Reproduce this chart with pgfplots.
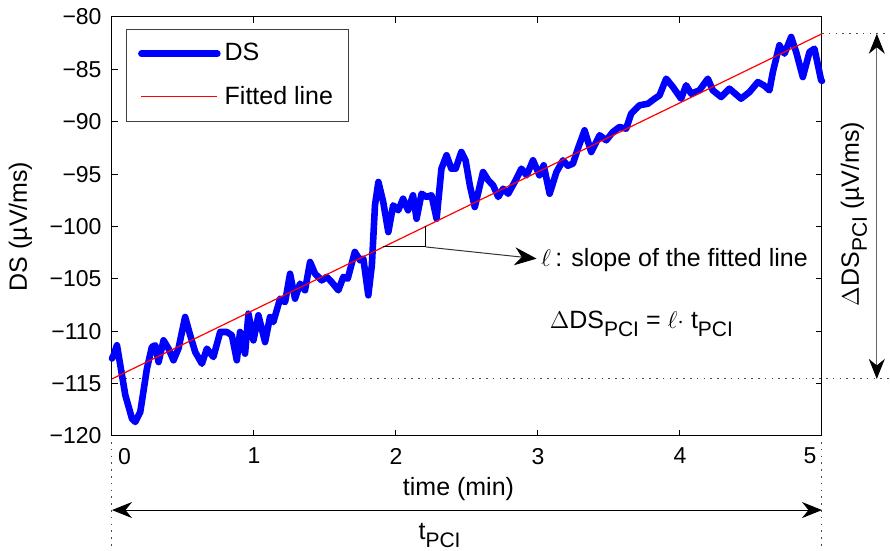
\documentclass[border=0pt]{standalone}
\usepackage{fontspec}
\setmainfont{Liberation Sans}
\usepackage{pgfplots}
\pgfplotsset{compat=1.18}
\usetikzlibrary{arrows.meta}
\newcommand{\sub}[1]{\raisebox{-0.6ex}{\fontsize{10.5}{11}\selectfont #1}}
\begin{document}
\begin{tikzpicture}
\useasboundingbox (-56pt,-57.5pt) rectangle (389pt,218pt);
\begin{axis}[
  at={(0,0)}, anchor=south west,
  scale only axis, width=355pt, height=209.5pt,
  xmin=0, xmax=5, ymin=-120, ymax=-80,
  xtick={0,1,2,3,4,5},
  xticklabels={\kern12.4pt 0,1,2,3,4,5\kern12pt},
  ytick={-120,-115,-110,-105,-100,-95,-90,-85,-80},
  yticklabels={−120,−115,−110,−105,−100,−95,−90,−85,−80},
  xtick pos=both, ytick pos=both, tick align=inside,
  major tick length=3pt,
  axis line style={line width=0.5pt},
  tick style={line width=0.5pt, black},
  tick label style={font=\fontsize{11.5}{13}\selectfont},
  xticklabel style={yshift=-2.5pt},
  yticklabel style={xshift=-1.7pt},
  xlabel={time (min)},
  ylabel={DS (µV/ms)},
  xlabel style={font=\fontsize{12.5}{15}\selectfont, at={(axis description cs:0.488,-0.1265)}, anchor=center},
  ylabel style={font=\fontsize{12.5}{15}\selectfont, at={(axis description cs:-0.129,0.5)}, anchor=center},
  clip=false,
  legend cell align=left,
  legend style={at={(axis description cs:0,1)}, anchor=north west, xshift=7pt, yshift=-6pt,
    font=\fontsize{12.5}{15}\selectfont, draw=black!75, line width=0.5pt,
    inner xsep=5.8pt, inner ysep=5pt, row sep=7pt, column sep=0pt,
    nodes={inner sep=2pt}},
  legend image code/.code={\draw[#1] (0pt,0pt) -- (38pt,0pt);},
]
% dotted guide lines
\draw[black!70, line width=0.5pt, dash pattern=on 0.8pt off 2.6pt] (axis cs:0,-114.55) -- (axis cs:5.47,-114.55);
\addplot[blue, line width=3.3pt, line join=round, line cap=round] table {
x y
0.000 -112.60
0.011 -112.30
0.035 -111.34
0.094 -116.11
0.141 -118.35
0.164 -118.66
0.199 -117.71
0.246 -113.57
0.281 -111.50
0.305 -111.34
0.328 -112.94
0.363 -110.87
0.398 -111.66
0.433 -112.77
0.468 -111.66
0.515 -108.64
0.551 -110.39
0.586 -111.98
0.633 -113.10
0.668 -111.66
0.714 -112.46
0.762 -110.07
0.809 -110.07
0.844 -110.39
0.879 -112.77
0.902 -110.07
0.937 -112.14
0.961 -108.32
0.996 -110.87
1.031 -108.48
1.078 -111.03
1.113 -108.64
1.136 -109.12
1.184 -106.89
1.219 -107.21
1.254 -104.51
1.289 -106.89
1.324 -105.46
1.359 -106.09
1.395 -103.39
1.430 -104.51
1.477 -105.14
1.512 -104.82
1.547 -105.30
1.594 -106.09
1.629 -104.82
1.660 -104.98
1.710 -102.43
1.747 -103.23
1.770 -103.07
1.805 -106.57
1.830 -103.70
1.852 -97.98
1.876 -95.75
1.910 -97.66
1.946 -100.53
1.980 -97.98
2.016 -98.45
2.050 -97.35
2.085 -98.45
2.120 -97.02
2.145 -99.26
2.180 -96.87
2.215 -97.18
2.250 -97.02
2.286 -99.26
2.320 -94.48
2.356 -93.20
2.390 -94.48
2.420 -94.48
2.460 -92.89
2.490 -93.68
2.520 -96.07
2.555 -98.14
2.580 -96.71
2.613 -94.80
2.650 -95.59
2.684 -96.07
2.720 -97.18
2.755 -96.39
2.790 -96.87
2.836 -95.75
2.883 -94.48
2.920 -95.11
2.965 -93.68
3.010 -95.11
3.040 -94.16
3.082 -96.87
3.130 -94.80
3.176 -93.68
3.210 -94.20
3.246 -94.00
3.281 -92.57
3.328 -90.82
3.375 -92.89
3.434 -91.29
3.481 -91.77
3.527 -90.98
3.574 -90.50
3.621 -90.66
3.656 -89.23
3.715 -88.43
3.774 -88.28
3.821 -87.80
3.856 -87.48
3.903 -85.89
3.950 -86.68
4.008 -87.80
4.043 -86.52
4.079 -87.32
4.137 -87.00
4.196 -85.89
4.231 -87.00
4.290 -87.64
4.348 -86.84
4.430 -87.80
4.490 -87.16
4.548 -86.21
4.590 -86.52
4.630 -87.00
4.654 -85.25
4.700 -82.70
4.736 -83.50
4.783 -81.91
4.818 -83.34
4.865 -85.73
4.912 -83.34
4.947 -83.03
4.994 -86.04
5.000 -86.10
};
\addlegendentry{DS}
\addplot[red, line width=0.6pt] coordinates {(0,-114.55) (5,-81.6)};
\addlegendentry{Fitted line}
% slope annotation
\draw[black, line width=0.5pt] (axis cs:1.909,-101.95) -- (axis cs:2.209,-101.95) -- (axis cs:2.209,-99.97);
\draw[black!80, line width=0.5pt, -{Stealth[length=11pt,width=9pt,color=black]}] (axis cs:2.209,-101.95) -- (axis cs:2.99,-103.07);
\node[anchor=west, font=\fontsize{12.5}{15}\selectfont, inner sep=0pt] at (axis cs:3.02,-103.2) {$\ell$\,: slope of the fitted line};
\node[anchor=west, font=\fontsize{12.5}{15}\selectfont, inner sep=0pt] at (axis cs:3.08,-109.3) {$\Delta$DS\sub{PCI} = $\ell\cdot$ t\sub{PCI}};
% right side
\draw[black!70, line width=0.5pt, dash pattern=on 0.8pt off 2.6pt] (axis cs:5,-81.6) -- (axis cs:5.47,-81.6);
\draw[black!60, line width=0.5pt, {Stealth[length=10pt,width=8pt,color=black]}-{Stealth[length=10pt,width=8pt,color=black]}] (axis cs:5.386,-81.6) -- (axis cs:5.386,-114.55);
\node[rotate=90, font=\fontsize{12.5}{15}\selectfont] at (axis cs:5.225,-98.8) {$\Delta$DS\sub{PCI} (µV/ms)};
% bottom
\draw[black!70, line width=0.5pt, dash pattern=on 0.8pt off 2.6pt] (axis cs:0,-120.57) -- (axis cs:0,-131.5);
\draw[black!70, line width=0.5pt, dash pattern=on 0.8pt off 2.6pt] (axis cs:5,-120.57) -- (axis cs:5,-131.5);
\draw[black, line width=0.5pt, {Stealth[length=10pt,width=8pt]}-{Stealth[length=10pt,width=8pt]}] (axis cs:0,-127.07) -- (axis cs:5,-127.07);
\node[font=\fontsize{12.5}{15}\selectfont, inner sep=0pt] at (axis cs:2.307,-129.5) {t\sub{PCI}};
\end{axis}
\end{tikzpicture}
\end{document}
